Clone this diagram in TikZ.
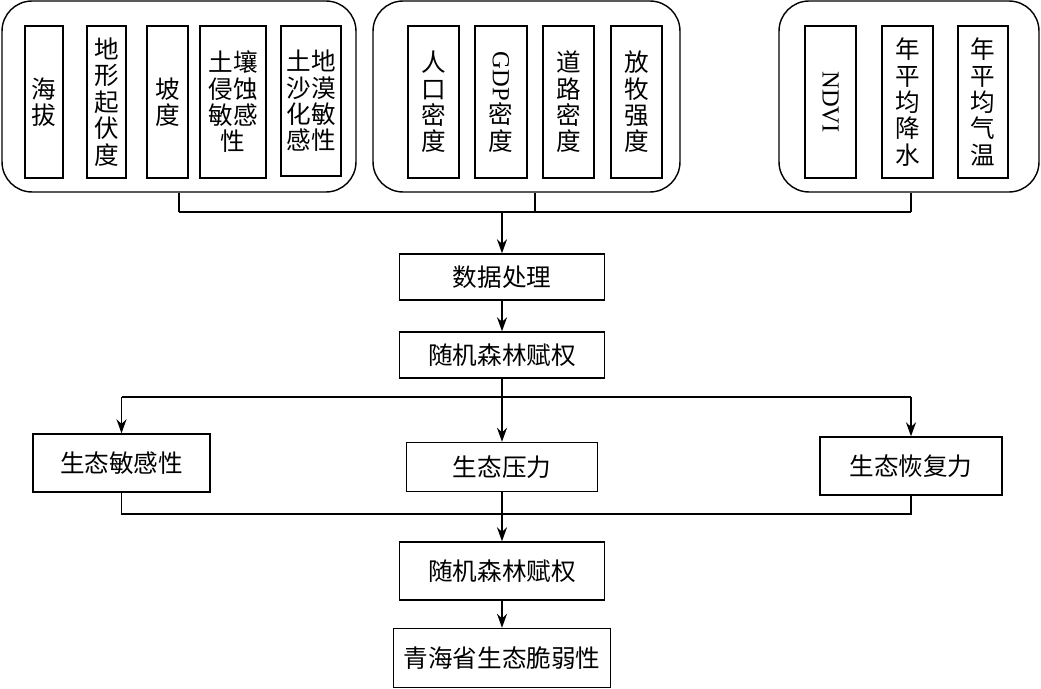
\documentclass[tikz,border=0pt]{standalone}
\usepackage{fontspec}
\setmainfont{Noto Sans CJK SC}
\newfontfamily\latin{Liberation Serif}
\usetikzlibrary{arrows.meta}

\begin{document}
\begin{tikzpicture}[x={(0.02cm,0)}, y={(0,-0.02cm)}, line width=0.8pt,
  grp/.style={draw, rounded corners=0.6cm, minimum height=3.82cm},
  item/.style={draw, align=center, inner sep=0pt, minimum height=3.04cm,
    font=\fontsize{14pt}{15pt}\selectfont},
  stepbox/.style={draw, inner sep=0pt, font=\fontsize{14pt}{16pt}\selectfont},
  fleche/.style={-{Stealth[length=0.28cm, width=0.2cm]}}]

 \useasboundingbox (0,0) rectangle (1041,689);

 %%%%%%%%%% Groupes du haut %%%%%%%%%%
 \node[grp, minimum width=7.08cm] (g1) at (179,96.5) {};
 \node[grp, minimum width=6.14cm] (g2) at (526.5,96.5) {};
 \node[grp, minimum width=5.2cm] (g3) at (909,96.5) {};

 % Groupe 1
 \node[item, minimum width=0.76cm] (alt) at (44,102) {海\\拔};
 \node[item, minimum width=0.78cm] (relief) at (106.5,102) {地\\形\\起\\伏\\度};
 \node[item, minimum width=0.82cm] (pente) at (167.5,102) {坡\\度};
 \node[item, minimum width=1.32cm] (erosion) at (233,102) {土壤\\侵蚀\\敏感\\性};
 \node[item, minimum width=1.2cm, minimum height=3.0cm] (desert) at (311,101) {土地\\沙漠\\化敏\\感性};

 % Groupe 2
 \node[item, minimum width=1.02cm] (pop) at (433.5,102) {人\\口\\密\\度};
 \node[item, minimum width=1.04cm] (gdp) at (501,102) {\rotatebox{-90}{\latin GDP}\\密\\度};
 \node[item, minimum width=1.02cm] (route) at (568.5,102) {道\\路\\密\\度};
 \node[item, minimum width=1.02cm] (pature) at (636.5,102) {放\\牧\\强\\度};

 % Groupe 3
 \node[item, minimum width=1.02cm] (ndvi) at (830.5,102) {\rotatebox{-90}{\latin NDVI}};
 \node[item, minimum width=1.02cm] (pluie) at (907.5,102) {年\\平\\均\\降\\水};
 \node[item, minimum width=1.0cm] (temp) at (983,102) {年\\平\\均\\气\\温};

 %%%%%%%%%% Etapes %%%%%%%%%%
 \node[stepbox, minimum width=4.1cm, minimum height=0.92cm] (proc) at (502,277) {数据处理};
 \node[stepbox, minimum width=4.1cm, minimum height=0.92cm] (rf1) at (502,355) {随机森林赋权};
 \node[stepbox, minimum width=3.54cm, minimum height=1.16cm] (sens) at (121.5,463) {生态敏感性};
 \node[stepbox, minimum width=3.82cm, minimum height=0.98cm] (press) at (502,467) {生态压力};
 \node[stepbox, minimum width=3.64cm, minimum height=1.16cm] (recup) at (911,466) {生态恢复力};
 \node[stepbox, minimum width=4.1cm, minimum height=1.16cm] (rf2) at (502,571) {随机森林赋权};
 \node[stepbox, minimum width=4.34cm, minimum height=1.18cm] (vuln) at (502,658) {青海省生态脆弱性};

 %%%%%%%%%% Liaisons %%%%%%%%%%
 \coordinate (b1) at (179,212);
 \coordinate (b2) at (535,212);
 \coordinate (b3) at (911,212);
 \coordinate (c1) at (121.5,397);
 \coordinate (c3) at (911,397);
 \coordinate (d1) at (121.5,514);
 \coordinate (d3) at (911,514);

 \draw (g1.south -| b1) -- (b1) ;
 \draw (g2.south -| b2) -- (b2) ;
 \draw (g3.south -| b3) -- (b3) ;
 \draw (b1) -- (b3) ;
 \draw [fleche] (proc.north |- b1) -- (proc) ;
 \draw [fleche] (proc) -- (rf1) ;

 \draw (rf1.south) -- (rf1.south |- c1) ;
 \draw (c1) -- (c3) ;
 \draw [fleche] (c1) -- (sens) ;
 \draw [fleche] (rf1.south |- c1) -- (press) ;
 \draw [fleche] (c3) -- (recup) ;

 \draw (sens.south) -- (d1) -- (d3) -- (recup.south) ;
 \draw (press) -- (press.south |- d1) ;
 \draw [fleche] (press.south |- d1) -- (rf2) ;
 \draw [fleche] (rf2) -- (vuln) ;

\end{tikzpicture}
\end{document}
